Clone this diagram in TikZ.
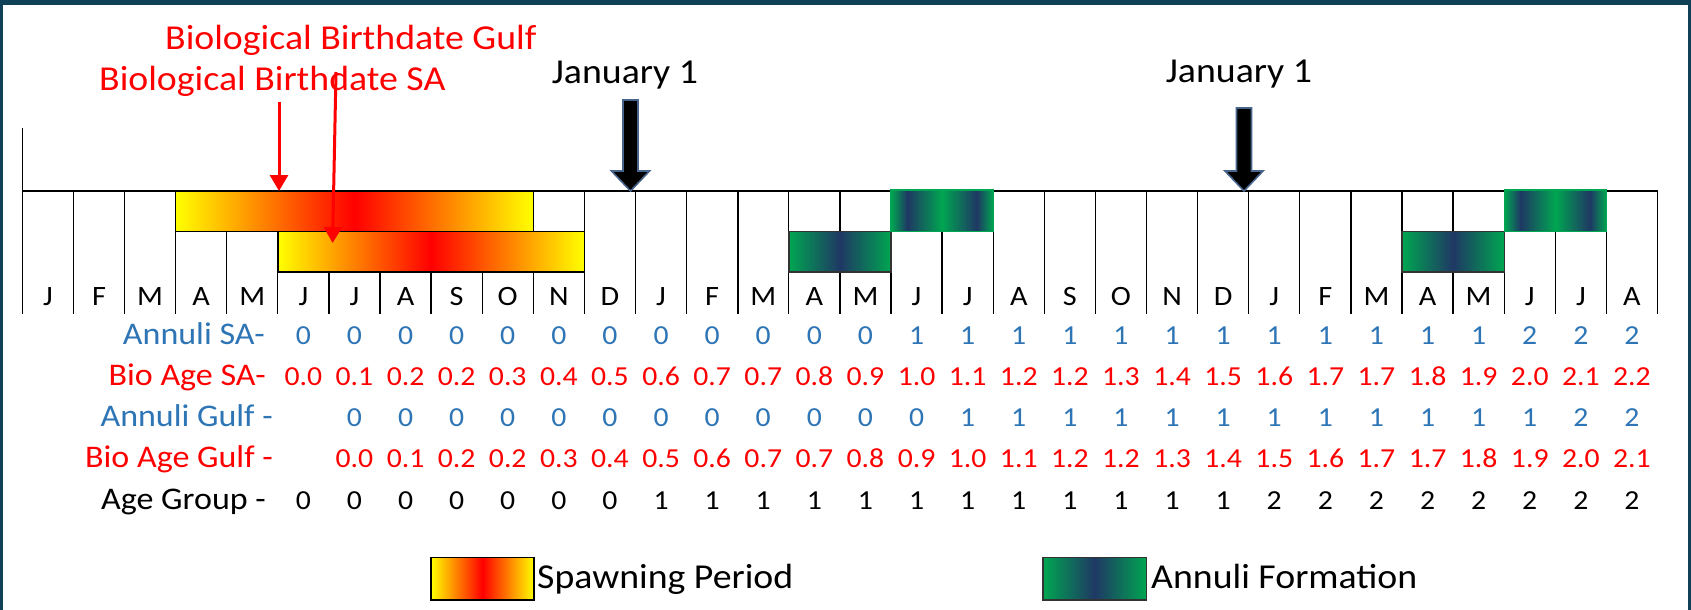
\documentclass[tikz,border=0pt]{standalone}
\usepackage{fontspec}
\setmainfont{Carlito}[FakeStretch=1.08]
\usetikzlibrary{arrows.meta}
\definecolor{frame}{RGB}{16,64,88}
\definecolor{annblue}{RGB}{46,117,182}
\definecolor{bgreen}{RGB}{0,166,81}
\definecolor{navy}{RGB}{31,56,100}
\definecolor{arrowedge}{RGB}{70,100,140}
\pgfdeclarehorizontalshading{annuliLow}{100bp}{color(0bp)=(bgreen); color(25bp)=(bgreen); color(50bp)=(navy); color(75bp)=(bgreen); color(100bp)=(bgreen)}
\pgfdeclarehorizontalshading{annuliUp}{100bp}{color(0bp)=(bgreen); color(25bp)=(bgreen); color(33bp)=(navy); color(50bp)=(bgreen); color(67bp)=(navy); color(75bp)=(bgreen); color(100bp)=(bgreen)}
\begin{document}
\begin{tikzpicture}[x=1pt,y=-1pt,
  gridline/.style={line width=1.3pt,black},
  boldgrid/.style={line width=2.4pt,black},
  spawnbar/.style={draw=black,line width=1.4pt,left color=yellow,right color=yellow,middle color=red},
  annlow/.style={draw=black!80,line width=1.4pt,shading=annuliLow},
  annup/.style={draw=bgreen,line width=1.4pt,shading=annuliUp},
  redarrow/.style={red,line width=3pt,-{Triangle[width=18pt,length=16pt]}},
  janedge/.style={draw=arrowedge,line width=1.6pt,fill=black,line join=miter},
  redlbl/.style={text=red,font=\fontsize{35}{40}\selectfont,inner sep=0pt,anchor=base west},
  janlbl/.style={text=black,font=\fontsize{35}{40}\selectfont,inner sep=0pt,anchor=base},
  month/.style={font=\fontsize{28}{32}\selectfont,inner sep=0pt,anchor=base},
  rowlbl/.style={font=\fontsize{31.5}{35}\selectfont,inner sep=0pt,anchor=base east},
  val/.style={font=\fontsize{27.5}{32}\selectfont,inner sep=0pt,anchor=base},
  leglbl/.style={font=\fontsize{35}{40}\selectfont,inner sep=0pt,anchor=base west}
]
\useasboundingbox (0,0) rectangle (1691,610);
\fill[white] (0,0) rectangle (1691,610);
\fill[frame] (0,0) rectangle (1691,5);
\fill[frame] (0,0) rectangle (3,610);
\fill[frame] (1688,0) rectangle (1691,610);

% grid
\draw[gridline] (22.3,128) -- (22.3,314);
\foreach \k in {1,...,32} {
  \draw[gridline] ({22.3+51.1*\k},191) -- ({22.3+51.1*\k},314);
}
\foreach \k in {14,16} {
  \draw[boldgrid] ({22.3+51.1*\k},191) -- ({22.3+51.1*\k},314);
}
\draw[line width=1.6pt] (22.3,191) -- (1657.5,191);

% spawning bars
\path[spawnbar] ({22.3+51.1*3},191) rectangle ({22.3+51.1*10},231.5);
\path[spawnbar] ({22.3+51.1*5},231.5) rectangle ({22.3+51.1*11},272);
% annuli bars
\path[annlow] ({22.3+51.1*15},231.5) rectangle ({22.3+51.1*17},272);
\path[annup] ({22.3+51.1*17},190) rectangle ({22.3+51.1*19},231.5);
\path[annlow] ({22.3+51.1*27},231.5) rectangle ({22.3+51.1*29},272);
\path[annup] ({22.3+51.1*29},190) rectangle ({22.3+51.1*31},231.5);

% month labels
\foreach \m [count=\i from 0] in {J,F,M,A,M,J,J,A,S,O,N,D,J,F,M,A,M,J,J,A,S,O,N,D,J,F,M,A,M,J,J,A} {
  \node[month] (m\i) at ({22.3+51.1*(\i+0.5)},305) {\m};
}

% titles
\node[redlbl] (gulfLbl) at (165,50) {Biological Birthdate Gulf};
\node[redlbl] (saLbl) at (99,90) {Biological Birthdate SA};
\node[janlbl] (jan1) at (625,83) {January 1};
\node[janlbl] (jan2) at (1239,82) {January 1};

% red arrows
\coordinate (saStart) at (279,102);
\coordinate (saTip) at (279,191);
\coordinate (gStart) at (336,72);
\coordinate (gTip) at (332.6,243);
\draw[redarrow] (saStart) -- (saTip);
\draw[redarrow] (gStart) -- (gTip);

% January arrows
\foreach \ax/\at in {630.5/100,1244/108} {
  \path[janedge] (\ax-7.5,\at) -- (\ax+7.5,\at) -- (\ax+7.5,171) -- (\ax+19,171) -- (\ax,191) -- (\ax-19,171) -- (\ax-7.5,171) -- cycle;
}

% row labels
\node[rowlbl,text=annblue] (lAsa) at (265,344.3) {Annuli SA-};
\node[rowlbl,text=red] (lBsa) at (266,385.2) {Bio Age SA-};
\node[rowlbl,text=annblue] (lAg) at (273,426.5) {Annuli Gulf -};
\node[rowlbl,text=red] (lBg) at (273,467.8) {Bio Age Gulf -};
\node[rowlbl,text=black] (lAge) at (266,509) {Age Group -};

% values
\foreach \v [count=\i from 5] in {0,0,0,0,0,0,0,0,0,0,0,0,1,1,1,1,1,1,1,1,1,1,1,1,2,2,2} {
  \node[val,text=annblue] (asa\i) at ({22.3+51.1*(\i+0.5)},344.3) {\v};
}
\foreach \v [count=\i from 5] in {0.0,0.1,0.2,0.2,0.3,0.4,0.5,0.6,0.7,0.7,0.8,0.9,1.0,1.1,1.2,1.2,1.3,1.4,1.5,1.6,1.7,1.7,1.8,1.9,2.0,2.1,2.2} {
  \node[val,text=red] (bsa\i) at ({22.3+51.1*(\i+0.5)},385.2) {\v};
}
\foreach \v [count=\i from 6] in {0,0,0,0,0,0,0,0,0,0,0,0,1,1,1,1,1,1,1,1,1,1,1,1,2,2} {
  \node[val,text=annblue] (ag\i) at ({22.3+51.1*(\i+0.5)},426.5) {\v};
}
\foreach \v [count=\i from 6] in {0.0,0.1,0.2,0.2,0.3,0.4,0.5,0.6,0.7,0.7,0.8,0.9,1.0,1.1,1.2,1.2,1.3,1.4,1.5,1.6,1.7,1.7,1.8,1.9,2.0,2.1} {
  \node[val,text=red] (bg\i) at ({22.3+51.1*(\i+0.5)},467.8) {\v};
}
\foreach \v [count=\i from 5] in {0,0,0,0,0,0,0,1,1,1,1,1,1,1,1,1,1,1,1,2,2,2,2,2,2,2,2} {
  \node[val,text=black] (age\i) at ({22.3+51.1*(\i+0.5)},509) {\v};
}

% legend
\path[spawnbar] (431,557.7) rectangle (534,600);
\node[leglbl] (legSpawn) at (537,588.3) {Spawning Period};
\path[annlow] (1043,557.7) rectangle (1146.6,600);
\node[leglbl] (legAnn) at (1151,588.3) {Annuli Formation};
\end{tikzpicture}
\end{document}
